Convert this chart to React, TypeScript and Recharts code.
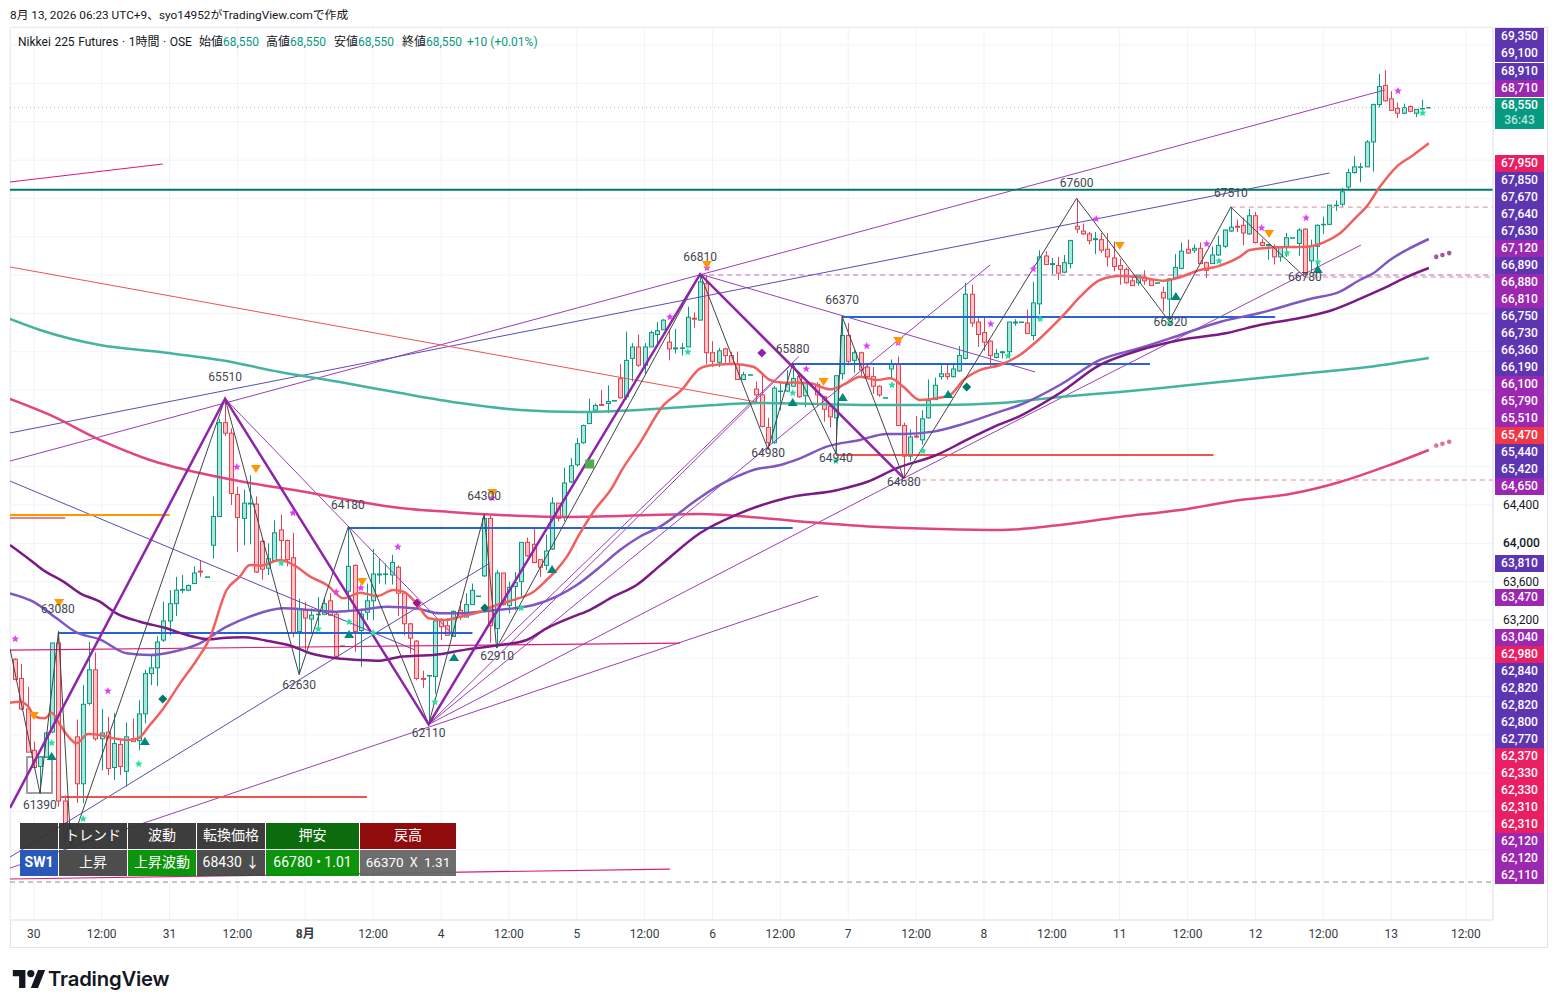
import { ComposedChart, Bar, Line, Scatter, XAxis, YAxis, CartesianGrid, ReferenceArea } from "recharts";

const opens = [
  62790,62590,62270,61840,61670,61770,62030,62960,61310,60890,
  61980,61490,62330,62680,61960,62030,61660,61900,61620,61960,
  61940,62220,62640,62700,62990,63190,63370,63510,63510,63580,
  63710,63650,63980,64280,65260,65150,64510,64260,64410,64410,
  64020,63740,63820,64140,64030,63850,63080,63300,63210,63260,
  63260,63400,63260,62930,63500,63770,63090,63280,63400,63670,
  63680,63670,63750,63480,63160,62980,62590,62620,62610,63200,
  63140,63030,63300,63230,63360,63450,63660,64260,63110,63690,
  63350,63550,63600,64010,63990,63830,63770,63940,64420,64270,
  64640,64820,65050,65250,65390,65450,65460,65490,65720,65530,
  65930,66050,65860,66050,66180,66230,66100,66030,66040,66050,
  66350,66330,66710,65990,65890,66030,65960,65870,65710,65760,
  65610,65550,65210,65050,65590,65590,65640,65740,65540,65670,
  65660,65530,65430,65310,65770,66170,65910,65990,65840,65740,
  65640,65520,65820,65870,65230,64910,65120,65080,65310,65500,
  65740,65770,65740,65800,65930,66600,66310,66200,66110,65940,
  65990,66000,66300,66310,66300,66170,66500,67000,66910,66900,
  66830,66920,67310,67260,67230,67170,67170,67070,66980,66900,
  66860,66740,66720,66780,66750,66720,66620,66550,66770,66870,
  67070,67060,67080,66930,66920,67010,67100,67260,67310,67320,
  67230,67420,67140,67110,67090,66990,67090,67190,67130,67280,
  66950,67100,67330,67330,67530,67540,67720,67870,67930,67930,
  68190,68580,68780,68640,68540,68490,68560,68490,68540,68550,
];
const closes = [
  62580,62270,61820,61660,61770,62020,62960,61310,60970,61050,
  61490,62320,62680,61960,62020,61650,61910,61670,61980,61930,
  62220,62640,62700,62970,63190,63370,63510,63520,63560,63690,
  63700,63650,64280,65260,65150,64520,64270,64420,64420,63700,
  63730,63840,64110,64030,63830,63070,63320,63220,63250,63260,
  63370,63250,62820,62930,63760,63080,63260,63400,63680,63680,
  63680,63800,63480,63160,63010,62590,62580,62620,63190,63130,
  63040,63290,63230,63360,63510,63450,64260,63140,63690,63360,
  63540,63590,64010,63870,63800,63750,63920,64420,64260,64630,
  64810,65040,65230,65370,65440,65440,65480,65490,65520,65910,
  66050,65860,66050,66200,66220,66330,66030,66040,66040,66360,
  66340,66730,65990,65900,66010,65960,65870,65710,65760,65760,
  65550,65220,65050,65620,65590,65660,65720,65530,65680,65670,
  65550,65400,65320,65750,66170,65900,65990,65810,65740,65640,
  65550,65520,65870,65230,64910,65110,65110,65300,65490,65650,
  65770,65740,65820,65960,66600,66300,66180,66100,65960,65980,
  66000,66310,66310,66310,66190,66510,66990,66910,66920,66820,
  66930,67160,67280,67230,67160,67180,67060,66990,66890,66860,
  66720,66690,66800,66740,66690,66720,66560,66760,66880,67050,
  67030,67080,66920,66850,67010,67110,67270,67300,67300,67240,
  67420,67140,67110,67120,66990,67090,67190,67190,67270,66810,
  67100,67320,67330,67530,67530,67670,67870,67930,67930,68190,
  68580,68770,68620,68520,68490,68550,68510,68530,68540,68550,
];
const highs = [
  62800,62740,62500,61930,61770,62030,62960,63080,61370,61060,
  62160,62520,62970,62860,62270,62190,62230,61950,62130,62170,
  62360,62680,62830,63030,63390,63510,63650,63670,63570,63760,
  63820,63650,64490,65300,65510,65200,64590,64560,64710,64490,
  64040,64000,64240,64300,64040,64110,63420,63390,63320,63440,
  63430,63480,63280,62930,64180,63780,63320,63580,63940,63840,
  63790,63880,63770,63500,63170,62990,62670,62620,63190,63220,
  63220,63300,63400,63480,63580,63450,64280,64300,63720,63690,
  63600,63700,64010,64060,64160,63830,64090,64480,64420,64790,
  64890,65100,65240,65510,65460,65600,65650,65490,65870,66210,
  66090,66180,66090,66220,66310,66340,66230,66240,66090,66470,
  66410,66810,66800,66110,66040,66040,66000,66000,65790,65760,
  65690,65760,65310,65640,65690,65810,65880,65760,65680,65670,
  65680,65540,65440,65750,66370,66300,66020,66000,65860,65840,
  65650,65520,65920,65950,65260,65190,65330,65390,65710,65730,
  65860,65870,65870,66060,66720,66700,66350,66370,66120,66030,
  66010,66310,66340,66310,66440,66730,67060,67050,66980,66990,
  67010,67170,67600,67340,67250,67250,67240,67240,67150,66970,
  66880,66800,66800,66850,66770,66720,66680,66770,67020,67140,
  67170,67120,67140,66940,67100,67210,67280,67510,67380,67400,
  67490,67460,67180,67120,67120,67100,67240,67190,67290,67290,
  67170,67330,67410,67530,67580,67710,67910,68040,67970,68210,
  68590,68900,68940,68720,68600,68590,68570,68530,68630,68550,
];
const lows = [
  62570,62260,61820,61650,61390,61770,62020,61250,60890,60850,
  61290,61290,62310,61940,61630,61580,61530,61580,61460,61930,
  61840,62120,62520,62510,62970,63040,63240,63480,63500,63580,
  63650,63650,63840,64280,65120,64400,63910,63980,63990,63690,
  63620,63670,63810,63770,63760,63020,62630,62890,63060,63100,
  63250,63240,62800,62930,63290,62870,62710,63200,63200,63580,
  63570,63570,63240,63040,62850,62570,62490,62110,62430,62990,
  63040,63030,63200,63230,63360,63450,63650,62960,62910,63350,
  63270,63300,63440,63860,63790,63650,63720,63930,64230,64230,
  64630,64800,65040,65250,65360,65440,65360,65490,65510,65500,
  65690,65840,65770,66050,66050,66230,65910,65980,65960,66050,
  66250,66330,65870,65840,65840,65870,65860,65710,65710,65760,
  65460,65210,64980,65040,65390,65580,65640,65520,65420,65670,
  65430,65270,65210,64940,65710,65860,65780,65730,65730,65560,
  65530,65520,65710,65230,64680,64860,65100,65030,65300,65500,
  65710,65710,65730,65790,65920,66260,66050,66010,65830,65930,
  65930,65930,66270,66310,66190,66120,66390,66910,66810,66750,
  66820,66870,67240,67220,67120,67020,67030,66890,66840,66700,
  66710,66690,66690,66700,66690,66720,66420,66320,66760,66860,
  67020,67030,66920,66770,66920,67000,67080,67250,67250,67110,
  67220,67130,67100,66960,66910,66940,66990,67190,67000,66780,
  66820,66870,67230,67320,67470,67510,67690,67860,67770,67930,
  67880,68550,68610,68520,68440,68480,68500,68450,68470,68550,
];

const shortMaBars = [-0.86,0.8,2.1,3.2,4.8,5.9,7.1,8.6,9.9,11.8,13.7,15.9,17.9,19.9,21.8,24,26.7,29.4,31.5,34.25,36.4,38,39.7,42.9,45.1,47.8,50.5,53.2,55.9,58.6,61.3,62.9,65,67,69.4,72.1,75.3,78,80.7,84,86.1,87.7,89.4,91.5,93.7,96.9,98,101.2,105,108,111,113.1,116.4,119.6,122.3,124.5,126.1,128.8,132,134.7,136.9,139.6,141.8,143.9,146.6,149.3,151.5,153.7,156.4,159.6,162.8,165.8,169.9,172.6,175.8,179,182.3,186.1,188.2,192,194.7,198.5,200.1,203.9,209.3,212,214.7,217.4,219,221.2,223.9,226.6,229.1];
const shortMaValues = [62337,62347,62295,62190,62173,62232,62121,61982,61912,62009,61999,61964,61947,61964,62103,62277,62538,62782,63008,63513,63652,63774,63767,63826,63774,63652,63565,63426,63485,63450,63513,63496,63374,63217,63199,63234,63286,63356,63408,63495,63617,63721,63861,64104,64330,64600,64731,65044,65437,65601,65827,65862,65872,65844,65705,65677,65678,65671,65608,65671,65740,65705,65723,65636,65497,65514,65549,65705,65810,65862,65966,66123,66384,66575,66749,66791,66777,66742,66767,66854,66889,66993,67062,67090,67097,67139,67236,67410,67515,67724,67932,68054,68176];
const midMaBars = [-0.86,2.9,6.7,10,13.7,18.05,21.8,25.6,29.9,34.25,38,43.4,47.8,52.1,55.9,60.2,65,68.8,72.1,75.3,78,80.7,84,87.7,91,94.8,98,101.2,104.5,110.4,113.7,116.9,119.6,124,127.2,131.5,136.9,141.2,143.9,148.8,153.1,156.4,159.6,162.8,169.3,175.8,182.3,188.8,195.2,201.7,209.8,214.7,217.9,220.1,222.8,225.5,229.1];
const midMaValues = [63478,63391,63217,63067,62998,62852,62834,62869,62956,63130,63235,63322,63304,63287,63304,63339,63320,63269,63269,63286,63304,63321,63356,63443,63565,63756,63930,64069,64174,64452,64592,64696,64766,64818,64887,65009,65079,65142,65142,65166,65236,65305,65375,65444,65653,65914,66039,66175,66311,66404,66551,66627,66749,66819,66958,67062,67177];
const longMaBars = [-0.86,2.4,4.5,7.8,10.5,13.7,16.4,20.2,24.5,27.8,31.5,33.2,37,40.7,45.1,47.8,52.1,55.9,59.1,62.4,65,67.75,73.2,78.6,82.9,86.1,90.4,93.1,96.9,100.7,104.5,111,117.5,125,133.3,138,142.9,149.3,154.2,158.5,162.8,169.3,175.8,182.3,188.8,196.4,201.7,208.2,213,217.9,221.2,225.5,229.1];
const longMaValues = [63982,63826,63722,63600,63478,63391,63269,63182,63113,63043,62998,63008,63019,62984,62921,62852,62800,62782,62775,62817,62827,62834,62893,62938,62991,63112,63234,63304,63443,63565,63767,64108,64316,64473,64557,64640,64786,64922,65079,65214,65329,65569,65862,66018,66123,66196,66279,66352,66425,66551,66645,66780,66874];
const tealMaBars = [-0.86,4,13.7,23.5,33.2,42.9,52.6,62.4,72.1,81.8,91.5,101.2,111,120.7,130.4,140.1,149.8,159.6,169.3,179,188.8,198.5,208.2,217.9,229.1];
const tealMaValues = [66342,66227,66070,65997,65914,65789,65684,65569,65465,65392,65371,65392,65434,65465,65454,65444,65444,65465,65528,65580,65642,65705,65768,65830,65935];
const pinkMaBars = [-0.86,5.6,13.7,21.8,29.9,38,46.1,54.2,62.4,70.4,78.6,88.3,98,111,119.1,130.4,140.1,149.8,159.6,169.3,179,188.8,198.5,206.6,214.7,222.8,229.1];
const pinkMaValues = [65507,65340,65079,64870,64734,64630,64546,64452,64369,64327,64296,64275,64285,64306,64275,64212,64170,64149,64139,64191,64275,64348,64452,64515,64640,64818,64974];

// swing pivots
const zigzagBars = [-0.86,4,7,9,34,46,54,67,76,78,111,122,126,133,134,144,172,187,197,209];
const zigzagPrices = [62900,61390,63080,60850,65510,62630,64180,62110,64300,62910,66810,64980,65880,64940,66370,64680,67600,66320,67510,66780];
const waveBars = [-0.86,34,67,111,144];
const wavePrices = [61237,65510,62110,66810,64680];

// [from bar, from price, to bar, to price]
const purpleLines = [
  [-0.86,64859,222,68733],
  [-0.86,60610,130.1,63450],
  [67,62110,126,65880],
  [78,62910,127,65950],
  [67,62110,158,66906],
  [67,62110,144,64680],
  [144,64680,218.1,67114],
  [34,65510,71.3,63022],
  [111,66810,165.3,65789],
];
const indigoLines = [
  [-0.86,65152,213,67866],
  [-0.86,60725,76.9,63794],
  [-0.86,64650,64.8,62886],
];
const crimsonLines = [
  [-0.86,67772,23.9,67960],
  [-0.86,62886,107.7,62959],
  [-0.86,60496,106.1,60600],
];
const blueLevels = [[7,63064,74.1],[54,64160,126],[126,65872,183.9],[134,66363,204.2]];
const redLevels = [[7.2,61352,57],[133,64922,194.2]];
const dashedLevels = [[197,67510],[111,66801],[209,66780],[144,64661],[-0.86,60464]];

const starBars = [0,15,35.9,45,52,56,62,77.3,106.1,112.1,128.2,138,143.1,158.1,165,175.2,193.1,202,209.2,224.1];
const starPrices = [63001,62458,64797,64316,63492,63533,63962,64473,66363,66874,65820,66060,66091,66290,66864,67386,67125,67292,67396,68722];
const greenStarBars = [5.9,11,20,43.1,49.1,54.1,58,68,82,109,126,133,142.1,147.1,160.9,166.1,187.1,195.1,206.1,211.1,228.1];
const greenStarPrices = [61915,61122,61696,63794,63105,63179,63064,62343,63325,65997,65569,64859,65653,64964,65956,66342,66300,66947,67031,66937,68492];
const sellBars = [3,7.1,39,56.2,77.3,112.1,131,143.1,179,203.2];
const sellPrices = [62197,63377,64776,63596,64525,66906,65684,66112,67104,67229];
const buyBars = [5.9,21,54.1,71.1,87,126,134.1,151.2,188.1,211.1];
const buyPrices = [61780,61936,63053,62813,63732,65475,65528,65559,66582,66864];
const tealDiamondBars = [23.9,76.1,154.2];
const tealDiamondPrices = [62375,63325,65632];
const forecastBars = [230.3,231.3,232.4];
const forecastUpper = [66990,67010,67030];
const forecastLower = [65020,65040,65060];

const labelBars = [4,6.9,34,53.9,46,67,76,78.1,111,122,126,133,134,144,172,187.2,197,209];
const labelTexts = ["61390","63080","65510","64180","62630","62110","64300","62910","66810","64980","65880","64940","66370","64680","67600","66320","67510","66780"];
const labelPrices = [61268,63314,65736,64400,62521,62020,64494,62824,66989,64943,66029,64891,66540,64640,67762,66311,67657,66780];

const xTickBars = [3,14,25,36,47,58,69,80,91,102,113,124,135,146,157,168,179,190,201,212,223,235.1];
const xTickLabels = ["30","12:00","31","12:00","8月","12:00","4","12:00","5","12:00","6","12:00","7","12:00","8","12:00","11","12:00","12","12:00","13","12:00"];
const priceTicks = [60800,61200,61600,62000,62400,62800,63200,63600,64000,64400,64800,65200,65600,66000,66400,66800,67200,67600,68000,68400,68800,69200];
const shownPriceLabels = [68000,64400,64000,63600,63200];

const tagsTop = ["69,350","69,100","68,910","68,710"];
const tagsTopKinds = "IIIP";
const tagsMid = ["67,950","67,850","67,670","67,640","67,630","67,120","66,890","66,880","66,810","66,750","66,730","66,360","66,190","66,100","65,790","65,510","65,470","65,440","65,420","64,650"];
const tagsMidKinds = "RIIIIPIPPIIIIPPPXIIP";
const tagsLow = ["63,040","62,980","62,840","62,820","62,820","62,800","62,770","62,370","62,330","62,330","62,310","62,310","62,120","62,120","62,110"];
const tagsLowKinds = "PRIIIIIRRRRRPPP";
const tagColors: Record<string, string> = { I: "#5e35b1", P: "#9c27b0", R: "#e91e63", X: "#f23645" };

const tableHead = ["", "トレンド", "波動", "転換価格", "押安", "戻高"];
const tableRow = ["SW1", "上昇", "上昇波動", "68430 ↓", "66780 • 1.01", "66370 Ⅹ 1.31"];
const tableHeadFill = ["#333333", "#333333", "#333333", "#333333", "#006400", "#8b0000"];
const tableRowFill = ["#1e50b4", "#444444", "#009000", "#444444", "#009000", "#666666"];
const tableWidths = [38, 68, 68, 68, 93, 96];

const legendPrices = [["始値", 199], ["高値", 266], ["安値", 334], ["終値", 402]] as const;

const UP = "#089981";
const UP_FILL = "#ace5dc";
const DOWN = "#e5404f";
const DOWN_FILL = "#fbc5c8";
const FONT = 'Roboto, "Noto Sans CJK JP", sans-serif';
const PRICE_MIN = 60068;
const PRICE_MAX = 69390;
const PX_PER_PRICE = 893 / (PRICE_MAX - PRICE_MIN);

const candles = opens.map((open, i) => ({
  x: i,
  open,
  close: closes[i],
  high: highs[i],
  low: lows[i],
}));

const toPoints = (bars: number[], prices: number[]) => bars.map((x, i) => ({ x, y: prices[i] }));

function Candle(props: any) {
  const { x, y, width, payload } = props;
  const { open, close, high } = payload;
  const mid = Math.round(x + width / 2) + 0.5;
  const up = close >= open;
  const yOf = (p: number) => y + (high - p) * PX_PER_PRICE;
  const top = yOf(Math.max(open, close));
  const bottom = yOf(Math.min(open, close));
  const stroke = up ? UP : DOWN;
  return (
    <g>
      <line x1={mid} x2={mid} y1={y} y2={yOf(payload.low)} stroke={stroke} strokeWidth={1} />
      <rect x={mid - 2} y={top} width={4} height={Math.max(bottom - top, 0.5)} fill={up ? UP_FILL : DOWN_FILL} stroke={stroke} strokeWidth={1} />
    </g>
  );
}

function starPath(cx: number, cy: number, r: number) {
  const pts: string[] = [];
  for (let i = 0; i < 10; i++) {
    const rad = i % 2 === 0 ? r : r * 0.45;
    const a = -Math.PI / 2 + (i * Math.PI) / 5;
    pts.push(`${cx + rad * Math.cos(a)},${cy + rad * Math.sin(a)}`);
  }
  return pts.join(" ");
}

const Star = (color: string) => (p: any) => <polygon points={starPath(p.cx, p.cy, 4)} fill={color} />;
const Down = (p: any) => <polygon points={`${p.cx - 5},${p.cy - 4} ${p.cx + 5},${p.cy - 4} ${p.cx},${p.cy + 4}`} fill="#ff9800" />;
const Up = (p: any) => <polygon points={`${p.cx - 5},${p.cy + 4} ${p.cx + 5},${p.cy + 4} ${p.cx},${p.cy - 4}`} fill="#00897b" />;
const Diamond = (color: string) => (p: any) => (
  <polygon points={`${p.cx},${p.cy - 4.5} ${p.cx + 4.5},${p.cy} ${p.cx},${p.cy + 4.5} ${p.cx - 4.5},${p.cy}`} fill={color} />
);
const Square = (p: any) => <rect x={p.cx - 4.5} y={p.cy - 4.5} width={9} height={9} fill="#4caf50" />;
const Dot = (color: string) => (p: any) => <circle cx={p.cx} cy={p.cy} r={2.3} fill={color} />;
const SwingLabel = (p: any) => (
  <text x={p.cx} y={p.cy + 4} textAnchor="middle" fontSize={12} fontFamily={FONT} fill="#434651">
    {p.payload.text}
  </text>
);

const XTick = ({ x, y, payload }: any) => {
  const label = xTickLabels[xTickBars.indexOf(payload.value)];
  return (
    <text x={x} y={y + 10} textAnchor="middle" fontSize={12} fontFamily={FONT} fontWeight={label === "8月" ? 700 : 400} fill="#363a45">
      {label}
    </text>
  );
};
const YTick = ({ y, payload }: any) =>
  shownPriceLabels.includes(payload.value) ? (
    <text x={1503} y={y + 4} fontSize={12} fontFamily={FONT} fontWeight={payload.value === 64000 ? 500 : 400} fill="#131722">
      {payload.value.toLocaleString("en-US")}
    </text>
  ) : (
    <g />
  );

const thin = (from: number, p1: number, to: number, p2: number) => [
  { x: from, y: p1 },
  { x: to, y: p2 },
];

function Tag({ text, top, color }: { text: string; top: number; color: string }) {
  return (
    <div
      style={{
        position: "absolute",
        left: 1495,
        top,
        width: 49,
        height: 17,
        lineHeight: "17px",
        background: color,
        color: "#fff",
        fontFamily: FONT,
        fontWeight: 500,
        fontSize: 12,
        textAlign: "center",
      }}
    >
      {text}
    </div>
  );
}

export default function App() {
  const num = { color: "#089981" };
  return (
    <div style={{ position: "absolute", left: 0, top: 0, width: 1558, height: 1008, background: "#fff", overflow: "hidden" }}>
      <div style={{ position: "absolute", left: 10, top: 27, width: 1538, height: 921, border: "1px solid #e0e3eb", boxSizing: "border-box" }} />
      <ComposedChart
        width={1558}
        height={1008}
        data={candles}
        margin={{ left: 10, top: 27, right: 10, bottom: 60 }}
        style={{ position: "absolute", left: 0, top: 0 }}
      >
        <CartesianGrid stroke="#f0f3fa" />
        <XAxis
          dataKey="x"
          type="number"
          domain={[-0.86, 239.5]}
          ticks={xTickBars}
          interval={0}
          allowDataOverflow
          height={28}
          tick={<XTick />}
          tickLine={false}
          axisLine={{ stroke: "#e0e3eb" }}
        />
        <YAxis
          orientation="right"
          type="number"
          domain={[PRICE_MIN, PRICE_MAX]}
          ticks={priceTicks}
          interval={0}
          allowDataOverflow
          width={55}
          tick={<YTick />}
          tickLine={false}
          axisLine={{ stroke: "#e0e3eb" }}
        />
        <ReferenceArea x1={1.9} x2={5.95} y1={61393} y2={61769} fill="none" stroke="#9e9e9e" strokeWidth={2} />

        <Bar dataKey={(d: any) => [d.low, d.high]} barSize={5} isAnimationActive={false} shape={<Candle />} />

        {dashedLevels.map(([from, price], i) => (
          <Line key={`dash${i}`} data={thin(from, price, 239.5, price)} dataKey="y" dot={false} stroke={i === 4 ? "#8a8d99" : i === 1 ? "#ba68c8" : "#e08a90"} strokeWidth={1} strokeDasharray="5 4" isAnimationActive={false} />
        ))}
        <Line data={thin(-0.86, 68550, 239.5, 68550)} dataKey="y" dot={false} stroke="#b0b3bd" strokeWidth={1} strokeDasharray="1 3" isAnimationActive={false} />

        {purpleLines.map(([a, b, c, d], i) => (
          <Line key={`pl${i}`} data={thin(a, b, c, d)} dataKey="y" dot={false} stroke="#9c3fb5" strokeWidth={1} isAnimationActive={false} />
        ))}
        {indigoLines.map(([a, b, c, d], i) => (
          <Line key={`il${i}`} data={thin(a, b, c, d)} dataKey="y" dot={false} stroke="#5e4bb5" strokeWidth={1} isAnimationActive={false} />
        ))}
        {crimsonLines.map(([a, b, c, d], i) => (
          <Line key={`cl${i}`} data={thin(a, b, c, d)} dataKey="y" dot={false} stroke="#d81b78" strokeWidth={1.2} isAnimationActive={false} />
        ))}
        <Line data={thin(-0.86, 66885, 121, 65465)} dataKey="y" dot={false} stroke="#ef5350" strokeWidth={1} isAnimationActive={false} />
        <Line data={thin(-0.86, 64296, 25, 64296)} dataKey="y" dot={false} stroke="#ff9800" strokeWidth={2} isAnimationActive={false} />
        <Line data={thin(-0.86, 64265, 8.1, 64265)} dataKey="y" dot={false} stroke="#ef5350" strokeWidth={1.5} isAnimationActive={false} />
        <Line data={thin(-0.86, 67690, 239.5, 67690)} dataKey="y" dot={false} stroke="#00796b" strokeWidth={2} isAnimationActive={false} />

        {blueLevels.map(([from, price, to], i) => (
          <Line key={`bl${i}`} data={thin(from, price, to, price)} dataKey="y" dot={false} stroke="#2962d4" strokeWidth={2} isAnimationActive={false} />
        ))}
        {redLevels.map(([from, price, to], i) => (
          <Line key={`rl${i}`} data={thin(from, price, to, price)} dataKey="y" dot={false} stroke="#ef5350" strokeWidth={2} isAnimationActive={false} />
        ))}

        <Line data={toPoints(tealMaBars, tealMaValues)} dataKey="y" type="monotone" dot={false} stroke="#45b39d" strokeWidth={2.5} isAnimationActive={false} />
        <Line data={toPoints(pinkMaBars, pinkMaValues)} dataKey="y" type="monotone" dot={false} stroke="#e0457f" strokeWidth={2.5} isAnimationActive={false} />
        <Line data={toPoints(midMaBars, midMaValues)} dataKey="y" type="monotone" dot={false} stroke="#7e57c2" strokeWidth={2.5} isAnimationActive={false} />
        <Line data={toPoints(longMaBars, longMaValues)} dataKey="y" type="monotone" dot={false} stroke="#7b1a85" strokeWidth={2.5} isAnimationActive={false} />
        <Line data={toPoints(shortMaBars, shortMaValues)} dataKey="y" type="monotone" dot={false} stroke="#f0605e" strokeWidth={2.5} isAnimationActive={false} />

        <Line data={toPoints(zigzagBars, zigzagPrices)} dataKey="y" dot={false} stroke="#444444" strokeWidth={1} isAnimationActive={false} />
        <Line data={toPoints(waveBars, wavePrices)} dataKey="y" dot={false} stroke="#8e24aa" strokeWidth={2.5} isAnimationActive={false} />

        <Scatter data={toPoints(starBars, starPrices)} dataKey="y" shape={Star("#e040fb")} isAnimationActive={false} />
        <Scatter data={toPoints(greenStarBars, greenStarPrices)} dataKey="y" shape={Star("#26e0a0")} isAnimationActive={false} />
        <Scatter data={toPoints(sellBars, sellPrices)} dataKey="y" shape={Down} isAnimationActive={false} />
        <Scatter data={toPoints(buyBars, buyPrices)} dataKey="y" shape={Up} isAnimationActive={false} />
        <Scatter data={toPoints(tealDiamondBars, tealDiamondPrices)} dataKey="y" shape={Diamond("#00796b")} isAnimationActive={false} />
        <Scatter data={toPoints([65.1], [63377])} dataKey="y" shape={Diamond("#a0158a")} isAnimationActive={false} />
        <Scatter data={toPoints([121], [65987])} dataKey="y" shape={Diamond("#8e24aa")} isAnimationActive={false} />
        <Scatter data={toPoints([93.1], [64828])} dataKey="y" shape={Square} isAnimationActive={false} />
        <Scatter data={toPoints(forecastBars, forecastUpper)} dataKey="y" shape={Dot("#a0569f")} isAnimationActive={false} />
        <Scatter data={toPoints(forecastBars, forecastLower)} dataKey="y" shape={Dot("#e0709c")} isAnimationActive={false} />
        <Scatter
          data={labelBars.map((x, i) => ({ x, y: labelPrices[i], text: labelTexts[i] }))}
          dataKey="y"
          shape={SwingLabel}
          isAnimationActive={false}
        />
      </ComposedChart>

      <div style={{ position: "absolute", left: 10, top: 8, lineHeight: "15px", fontFamily: FONT, fontSize: 11.8, color: "#131722", whiteSpace: "nowrap" }}>
        8月 13, 2026 06:23 UTC+9、syo14952がTradingView.comで作成
      </div>
      <div style={{ position: "absolute", left: 18, top: 34, lineHeight: "16px", fontFamily: FONT, fontSize: 12, color: "#131722", whiteSpace: "pre", wordSpacing: 0.6 }}>
        {"Nikkei 225 Futures · 1時間 · OSE"}
      </div>
      {legendPrices.map(([name, left]) => (
        <div key={name} style={{ position: "absolute", left, top: 34, lineHeight: "16px", fontFamily: FONT, fontSize: 12, color: "#131722", whiteSpace: "pre" }}>
          {name}
          <span style={num}>68,550</span>
        </div>
      ))}
      <div style={{ position: "absolute", left: 467, top: 34, lineHeight: "16px", fontFamily: FONT, fontSize: 12, whiteSpace: "pre", ...num }}>+10 (+0.01%)</div>

      {tagsTop.map((t, i) => (
        <Tag key={`top${i}`} text={t} top={28 + i * 17.3} color={tagColors[tagsTopKinds[i]]} />
      ))}
      <div style={{ position: "absolute", left: 1495, top: 98, width: 49, height: 31, background: "#089981", color: "#fff", fontFamily: FONT, fontSize: 12, fontWeight: 500, textAlign: "center", lineHeight: "15px" }}>
        68,550
        <br />
        <span style={{ color: "#b2e6da" }}>36:43</span>
      </div>
      {tagsMid.map((t, i) => (
        <Tag key={`mid${i}`} text={t} top={155 + i * 17} color={tagColors[tagsMidKinds[i]]} />
      ))}
      <Tag text="63,810" top={555} color={tagColors.I} />
      <Tag text="63,470" top={589} color={tagColors.P} />
      {tagsLow.map((t, i) => (
        <Tag key={`low${i}`} text={t} top={629 + i * 17} color={tagColors[tagsLowKinds[i]]} />
      ))}

      <div style={{ position: "absolute", left: 20, top: 823, display: "flex", flexDirection: "column", gap: 1 }}>
        {[tableHead, tableRow].map((row, r) => (
          <div key={r} style={{ display: "flex", gap: 1 }}>
            {row.map((cell, c) => (
              <div
                key={c}
                style={{
                  width: tableWidths[c],
                  height: 26,
                  lineHeight: "24px",
                  textAlign: "center",
                  whiteSpace: "nowrap",
                  color: "#fff",
                  opacity: 0.95,
                  fontFamily: FONT,
                  fontSize: r === 1 && c === 5 ? 13.5 : 14,
                  fontWeight: c === 0 && r === 1 ? 700 : 400,
                  background: (r === 0 ? tableHeadFill : tableRowFill)[c],
                }}
              >
                {cell}
              </div>
            ))}
          </div>
        ))}
      </div>

      <svg style={{ position: "absolute", left: 12, top: 970 }} width={34} height={18} viewBox="0 0 36 20">
        <path d="M14 20H7V7H0V0h14v20z" fill="#131722" />
        <circle cx="20" cy="4" r="4" fill="#131722" />
        <path d="M28 20h-8L28 0h8l-8 20z" fill="#131722" />
      </svg>
      <div style={{ position: "absolute", left: 48, top: 966, fontFamily: "Inter, sans-serif", fontWeight: 600, fontSize: 20.3, color: "#131722", letterSpacing: -0.2 }}>
        TradingView
      </div>
    </div>
  );
}
